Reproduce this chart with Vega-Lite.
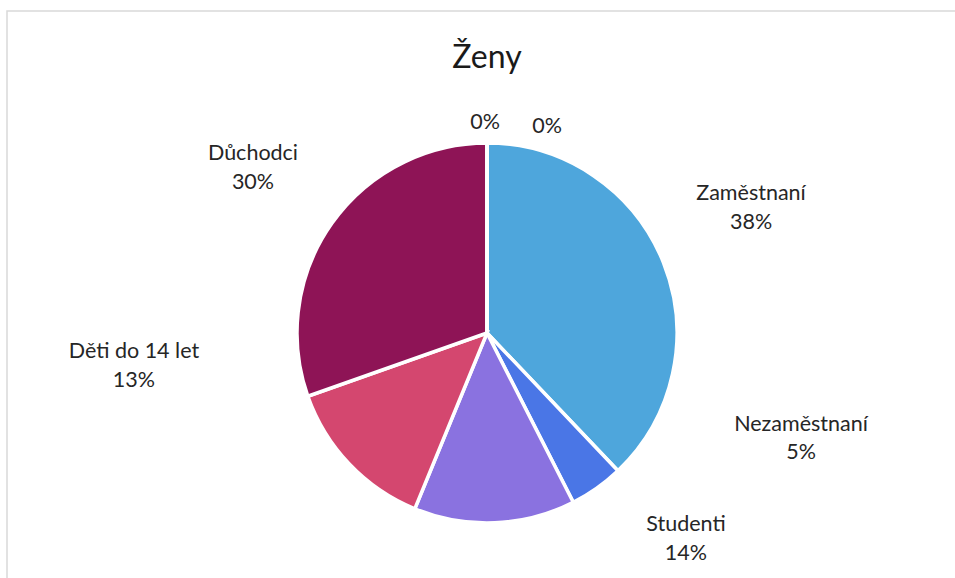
{
  "$schema": "https://vega.github.io/schema/vega-lite/v6.json",
  "autosize": {"type": "none"},
  "padding": {"left": 7, "top": 11, "right": 0, "bottom": 0},
  "width": 960,
  "height": 644,
  "background": "white",
  "title": {
    "text": "Ženy",
    "font": "Lato",
    "fontSize": 32,
    "fontWeight": "normal",
    "color": "#1a1a1a",
    "anchor": "middle",
    "baseline": "alphabetic",
    "offset": -90
  },
  "config": {
    "view": {"stroke": null},
    "text": {"font": "Lato", "fontSize": 21.5, "color": "#262626", "align": "center", "baseline": "alphabetic"}
  },
  "data": {
    "values": [
      {"kategorie": "Zaměstnaní", "popisek": "Zaměstnaní", "podil": 0.379, "poradi": 1},
      {"kategorie": "Nezaměstnaní", "popisek": "Nezaměstnaní", "podil": 0.046, "poradi": 2},
      {"kategorie": "Studenti", "popisek": "Studenti", "podil": 0.137, "poradi": 3},
      {"kategorie": "Děti do 14 let", "popisek": "Děti do 14 let", "podil": 0.134, "poradi": 4},
      {"kategorie": "Důchodci", "popisek": "Důchodci", "podil": 0.304, "poradi": 5},
      {"kategorie": "Ostatní", "popisek": "", "podil": 0, "poradi": 6},
      {"kategorie": "Neuvedeno", "popisek": "", "podil": 0, "poradi": 7}
    ]
  },
  "layer": [
    {
      "data": {"values": [{"ramecek": "graf"}]},
      "mark": {"type": "rect", "fill": null, "fillOpacity": 0, "stroke": "#d9d9d9", "strokeWidth": 1.5},
      "encoding": {}
    },
    {
      "layer": [
        {
          "mark": {"type": "arc", "radius": 190, "stroke": "white", "strokeWidth": 3.5},
          "encoding": {
            "color": {
              "field": "kategorie",
              "type": "nominal",
              "legend": null,
              "scale": {
                "domain": ["Zaměstnaní", "Nezaměstnaní", "Studenti", "Děti do 14 let", "Důchodci", "Ostatní", "Neuvedeno"],
                "range": ["#4EA6DC", "#4A76E6", "#8A72E0", "#D4476F", "#8E1456", "#C0C0C0", "#A0A0A0"]
              }
            }
          }
        },
        {
          "mark": {"type": "text", "radius": 190, "dx": 87.6, "dy": -62.5},
          "encoding": {"detail": {"field": "kategorie"}, "text": {"condition": {"test": "datum.kategorie === 'Zaměstnaní'", "field": "popisek"}, "value": ""}}
        },
        {
          "mark": {"type": "text", "radius": 190, "dx": 87.6, "dy": -33.5},
          "encoding": {"detail": {"field": "kategorie"}, "text": {"condition": {"test": "datum.kategorie === 'Zaměstnaní'", "field": "podil", "format": ".0%"}, "value": ""}}
        },
        {
          "mark": {"type": "text", "radius": 190, "dx": 204.3, "dy": -57.4},
          "encoding": {"detail": {"field": "kategorie"}, "text": {"condition": {"test": "datum.kategorie === 'Nezaměstnaní'", "field": "popisek"}, "value": ""}}
        },
        {
          "mark": {"type": "text", "radius": 190, "dx": 204.3, "dy": -29.1},
          "encoding": {"detail": {"field": "kategorie"}, "text": {"condition": {"test": "datum.kategorie === 'Nezaměstnaní'", "field": "podil", "format": ".0%"}, "value": ""}}
        },
        {
          "mark": {"type": "text", "radius": 190, "dx": 191.2, "dy": 8.2},
          "encoding": {"detail": {"field": "kategorie"}, "text": {"condition": {"test": "datum.kategorie === 'Studenti'", "field": "popisek"}, "value": ""}}
        },
        {
          "mark": {"type": "text", "radius": 190, "dx": 191.2, "dy": 37.2},
          "encoding": {"detail": {"field": "kategorie"}, "text": {"condition": {"test": "datum.kategorie === 'Studenti'", "field": "podil", "format": ".0%"}, "value": ""}}
        },
        {
          "mark": {"type": "text", "radius": 190, "dx": -215.4, "dy": -106},
          "encoding": {"detail": {"field": "kategorie"}, "text": {"condition": {"test": "datum.kategorie === 'Děti do 14 let'", "field": "popisek"}, "value": ""}}
        },
        {
          "mark": {"type": "text", "radius": 190, "dx": -215.4, "dy": -77},
          "encoding": {"detail": {"field": "kategorie"}, "text": {"condition": {"test": "datum.kategorie === 'Děti do 14 let'", "field": "podil", "format": ".0%"}, "value": ""}}
        },
        {
          "mark": {"type": "text", "radius": 190, "dx": -78.9, "dy": -63.3},
          "encoding": {"detail": {"field": "kategorie"}, "text": {"condition": {"test": "datum.kategorie === 'Důchodci'", "field": "popisek"}, "value": ""}}
        },
        {
          "mark": {"type": "text", "radius": 190, "dx": -78.9, "dy": -34.3},
          "encoding": {"detail": {"field": "kategorie"}, "text": {"condition": {"test": "datum.kategorie === 'Důchodci'", "field": "podil", "format": ".0%"}, "value": ""}}
        },
        {
          "mark": {"type": "text", "radius": 190, "dx": -2, "dy": -14},
          "encoding": {"detail": {"field": "kategorie"}, "text": {"condition": {"test": "datum.kategorie === 'Ostatní'", "field": "podil", "format": ".0%"}, "value": ""}}
        },
        {
          "mark": {"type": "text", "radius": 190, "dx": 60, "dy": -10},
          "encoding": {"detail": {"field": "kategorie"}, "text": {"condition": {"test": "datum.kategorie === 'Neuvedeno'", "field": "podil", "format": ".0%"}, "value": ""}}
        }
      ],
      "encoding": {
        "theta": {"field": "podil", "type": "quantitative", "stack": true},
        "order": {"field": "poradi", "type": "quantitative", "sort": "ascending"}
      }
    }
  ]
}
